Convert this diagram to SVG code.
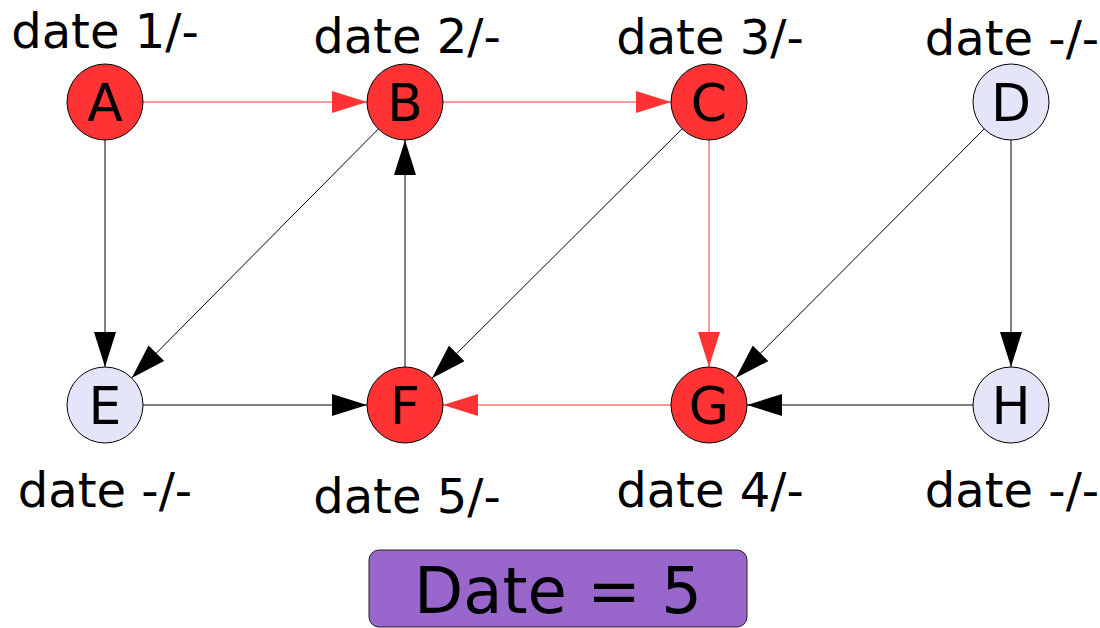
<svg xmlns="http://www.w3.org/2000/svg" width="1100" height="628" viewBox="0 0 1100 628">
<style>
.lbl{font-family:"DejaVu Sans",sans-serif;font-size:48px;fill:#000;text-anchor:middle}
.nl{font-family:"DejaVu Sans",sans-serif;font-size:52px;fill:#000;text-anchor:middle}
.red circle{fill:#ff3333;stroke:#000;stroke-width:1}
.blue circle{fill:#e5e5fa;stroke:#000;stroke-width:1}
.er{stroke:#ff3333;stroke-width:1;fill:none;marker-end:url(#ar)}
.eb{stroke:#000;stroke-width:1;fill:none;marker-end:url(#ab)}
</style>
<defs>
<marker id="ar" viewBox="0 0 35 22" refX="35" refY="11" markerWidth="35" markerHeight="22" markerUnits="userSpaceOnUse" orient="auto"><path d="M0,0 L35,11 L0,22 z" fill="#ff3333"/></marker>
<marker id="ab" viewBox="0 0 35 22" refX="35" refY="11" markerWidth="35" markerHeight="22" markerUnits="userSpaceOnUse" orient="auto"><path d="M0,0 L35,11 L0,22 z" fill="#000"/></marker>
</defs>
<rect width="1100" height="628" fill="#fff"/>
<g id="connectors">
<line class="er" x1="143" y1="102" x2="367" y2="102"/>
<line class="er" x1="443" y1="102" x2="671" y2="102"/>
<line class="er" x1="709" y1="140" x2="709" y2="367"/>
<line class="er" x1="671" y1="405" x2="443" y2="405"/>
<line class="eb" x1="105" y1="140" x2="105" y2="367"/>
<line class="eb" x1="378.3" y1="129" x2="131.7" y2="378"/>
<line class="eb" x1="405" y1="367" x2="405" y2="140"/>
<line class="eb" x1="682.1" y1="128.8" x2="431.9" y2="378.2"/>
<line class="eb" x1="143" y1="405" x2="367" y2="405"/>
<line class="eb" x1="984.2" y1="128.9" x2="735.8" y2="378.1"/>
<line class="eb" x1="1011" y1="140" x2="1011" y2="367"/>
<line class="eb" x1="973" y1="405" x2="747" y2="405"/>
</g>
<g id="A" class="red"><circle cx="105" cy="102" r="38"/><text class="nl" x="105" y="121">A</text><text class="lbl" x="105" y="48">date 1/-</text></g>
<g id="B" class="red"><circle cx="405" cy="102" r="38"/><text class="nl" x="405" y="121">B</text><text class="lbl" x="407" y="53">date 2/-</text></g>
<g id="C" class="red"><circle cx="709" cy="102" r="38"/><text class="nl" x="709" y="121">C</text><text class="lbl" x="710" y="54">date 3/-</text></g>
<g id="D" class="blue"><circle cx="1011" cy="102" r="38"/><text class="nl" x="1011" y="121">D</text><text class="lbl" x="1012" y="55">date -/-</text></g>
<g id="E" class="blue"><circle cx="105" cy="405" r="38"/><text class="nl" x="105" y="424">E</text><text class="lbl" x="105" y="507">date -/-</text></g>
<g id="F" class="red"><circle cx="405" cy="405" r="38"/><text class="nl" x="405" y="424">F</text><text class="lbl" x="407" y="513">date 5/-</text></g>
<g id="G" class="red"><circle cx="709" cy="405" r="38"/><text class="nl" x="709" y="424">G</text><text class="lbl" x="710" y="507">date 4/-</text></g>
<g id="H" class="blue"><circle cx="1011" cy="405" r="38"/><text class="nl" x="1011" y="424">H</text><text class="lbl" x="1012" y="507">date -/-</text></g>
<g id="date">
<rect x="369" y="550" width="378" height="77" rx="10" ry="10" fill="#9966cc" stroke="#222" stroke-width="1"/>
<text x="558" y="613" font-family="DejaVu Sans, sans-serif" font-size="64" text-anchor="middle" fill="#000">Date = 5</text>
</g>
</svg>
